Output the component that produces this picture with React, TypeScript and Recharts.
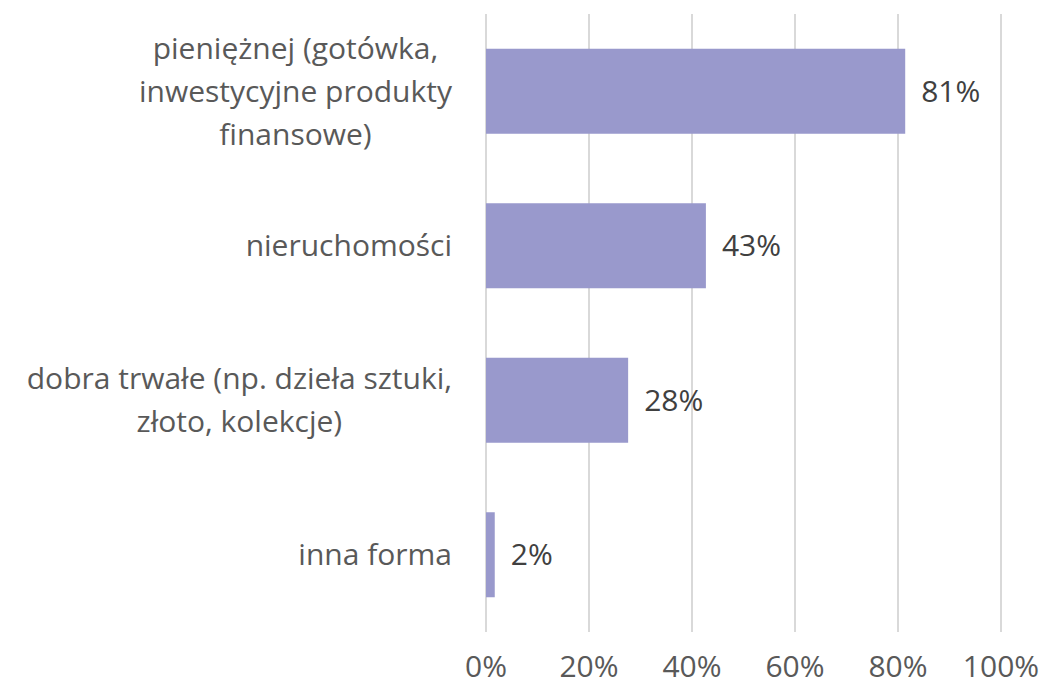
import { BarChart, Bar, XAxis, YAxis, CartesianGrid, LabelList } from "recharts";

const categories = [
  "pieniężnej (gotówka,\ninwestycyjne produkty\nfinansowe)",
  "nieruchomości",
  "dobra trwałe (np. dzieła sztuki,\nzłoto, kolekcje)",
  "inna forma",
];
const shares = [81.4, 42.7, 27.6, 1.7];
const xTicks = [0, 20, 40, 60, 80, 100];

const data = categories.map((name, i) => ({ name, value: shares[i] }));

const FONT = "'Open Sans', sans-serif";
const FONT_SIZE = 30;
const LINE_H = 43;

let ctx: CanvasRenderingContext2D | null = null;
function textWidth(s: string): number {
  if (!ctx) {
    ctx = document.createElement("canvas").getContext("2d");
  }
  if (!ctx) return s.length * FONT_SIZE * 0.5;
  ctx.font = `${FONT_SIZE}px 'Open Sans'`;
  return ctx.measureText(s).width;
}

const CategoryTick = (props: any) => {
  const { x, y, payload } = props;
  const lines: string[] = String(payload.value).split("\n");
  const maxW = Math.max(...lines.map(textWidth));
  const right = x - 26;
  const cx = right - maxW / 2;
  const startY = y - ((lines.length - 1) * LINE_H) / 2;
  return (
    <text
      x={cx}
      y={startY}
      textAnchor="middle"
      fill="#595959"
      fontSize={FONT_SIZE}
      fontFamily={FONT}
    >
      {lines.map((l, i) => (
        <tspan key={i} x={cx} y={startY + i * LINE_H} dy="0.35em">
          {l}
        </tspan>
      ))}
    </text>
  );
};

export default function App() {
  return (
    <div style={{ position: "absolute", left: 0, top: 0, background: "#fff" }}>
      <BarChart
        width={1040}
        height={685}
        data={data}
        layout="vertical"
        margin={{ top: 14, right: 39, bottom: 0, left: 0 }}
        barCategoryGap="22.5%"
      >
        <CartesianGrid horizontal={false} vertical stroke="#d9d9d9" strokeWidth={2} />
        <XAxis
          type="number"
          domain={[0, 100]}
          ticks={xTicks}
          tickFormatter={(v) => `${v}%`}
          axisLine={false}
          tickLine={false}
          height={53}
          tickMargin={18}
          tick={{ fill: "#595959", fontSize: FONT_SIZE, fontFamily: FONT }}
          interval={0}
        />
        <YAxis
          type="category"
          dataKey="name"
          width={486}
          axisLine={false}
          tickLine={false}
          tick={<CategoryTick />}
          interval={0}
        />
        <Bar dataKey="value" fill="#9999cc" isAnimationActive={false}>
          <LabelList
            dataKey="value"
            position="right"
            offset={16}
            formatter={(v: any) => `${Math.round(Number(v))}%`}
            style={{ fill: "#404040", fontSize: FONT_SIZE, fontFamily: FONT }}
          />
        </Bar>
      </BarChart>
    </div>
  );
}
